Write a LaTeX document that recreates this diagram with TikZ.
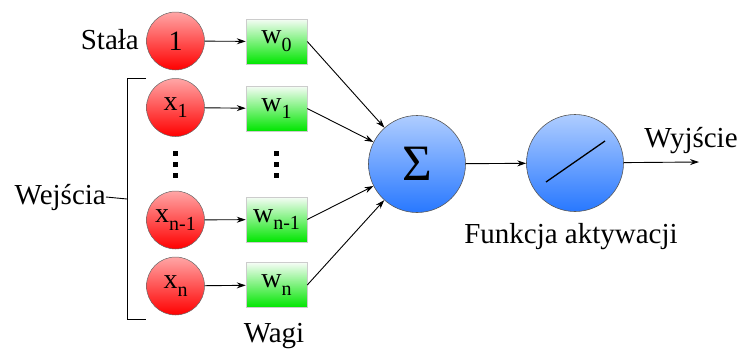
\documentclass[tikz,border=0pt]{standalone}
\usepackage{fontspec}
\setmainfont{Liberation Serif}
\usetikzlibrary{arrows.meta}
\newcommand{\mysub}[1]{\raisebox{-0.28em}{\fontsize{20}{20}\selectfont #1}}
\begin{document}
\begin{tikzpicture}[x=1pt,y=-1pt,
  lbl/.style={font=\fontsize{29}{29}\selectfont, inner sep=0pt},
  inp/.style={circle, minimum size=58pt, inner sep=0pt, draw=gray!80!black, line width=0.5pt,
    top color=red!35!white, bottom color=red, font=\fontsize{28}{28}\selectfont},
  wbox/.style={rectangle, minimum width=61pt, minimum height=45pt, inner sep=0pt,
    draw=gray!40, line width=0.5pt, top color=green!35!white!80!gray!10, bottom color=green!90!black,
    font=\fontsize{28}{28}\selectfont},
  neur/.style={circle, minimum size=97pt, inner sep=0pt, draw=gray!70!black, line width=0.6pt,
    top color={rgb,255:red,175;green,205;blue,255}, bottom color={rgb,255:red,40;green,120;blue,255}},
  dotbox/.style={rectangle, fill=black, minimum size=5pt, inner sep=0pt},
  conn/.style={line width=0.9pt, -{Stealth[length=9pt,width=6pt]}}
]
\useasboundingbox (0,0) rectangle (741,354);

\node[inp] (c1) at (175.5,41) {1};
\node[inp] (x1) at (175.5,107.5) {x\mysub{1}};
\node[inp] (xn1) at (175.5,220) {x\mysub{n-1}};
\node[inp] (xn) at (175.5,286) {x\mysub{n}};

\node[wbox] (w0) at (276.5,41.5) {w\mysub{0}};
\node[wbox] (w1) at (276.5,108.5) {w\mysub{1}};
\node[wbox] (wn1) at (276.5,219.5) {w\mysub{n-1}};
\node[wbox] (wn) at (276.5,285) {w\mysub{n}};

\node[dotbox] (da1) at (175.5,153.5) {};
\node[dotbox] (da2) at (175.5,164.5) {};
\node[dotbox] (da3) at (175.5,175) {};
\node[dotbox] (db1) at (276.5,153.5) {};
\node[dotbox] (db2) at (276.5,164.5) {};
\node[dotbox] (db3) at (276.5,175) {};

\node[neur, font=\fontsize{51}{51}\selectfont] (sum) at (417,164) {Σ};
\node[neur] (act) at (575,163) {};
\draw[line width=1.3pt] (546,182) -- (605,141);

\node[lbl, anchor=east] (stala) at (139,40) {Stała};
\node[lbl, anchor=east] (wej) at (106,197) {Wejścia};
\node[lbl] (wagi) at (274,336) {Wagi};
\node[lbl] (wyj) at (691,141) {Wyjście};
\node[lbl] (fa) at (571,237) {Funkcja aktywacji};

\coordinate (bt) at (146,78);
\coordinate (bb) at (146,319);
\coordinate (out) at (699,162);
\draw[line width=0.9pt] (bt) -- (127,78) -- (127,319) -- (bb);
\draw[line width=0.9pt] (127,199) -- (wej.east);

\draw[conn] (c1) -- (w0);
\draw[conn] (x1) -- (w1);
\draw[conn] (xn1) -- (wn1);
\draw[conn] (xn) -- (wn);

\draw[conn] (w0.east) -- (sum);
\draw[conn] (w1.east) -- (sum);
\draw[conn] (wn1.east) -- (sum);
\draw[conn] (wn.east) -- (sum);

\draw[conn] (sum) -- (act);
\draw[conn] (act) -- (out);
\end{tikzpicture}
\end{document}
